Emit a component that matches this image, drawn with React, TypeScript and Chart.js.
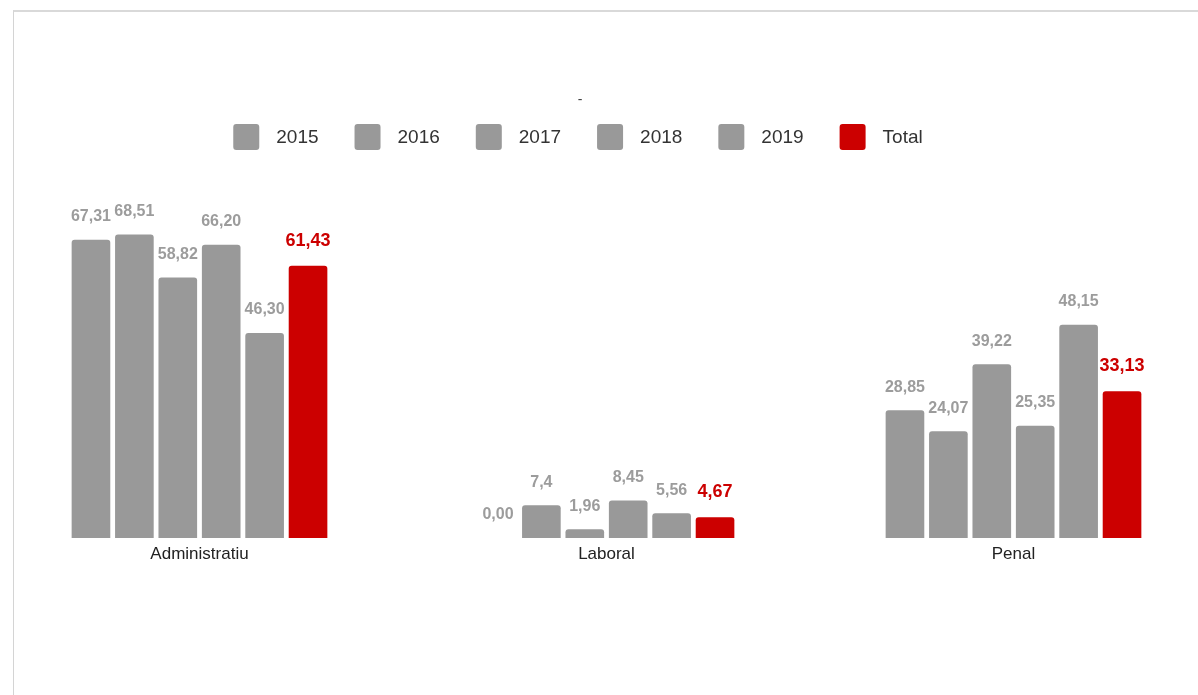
import { useEffect, useRef } from "react";
import { Chart, registerables } from "chart.js";

Chart.register(...registerables);

const FONT = "'Liberation Sans', Arial, Helvetica, sans-serif";

const CATEGORIES = ["Administratiu", "Laboral", "Penal"];
const SERIES_NAMES = ["2015", "2016", "2017", "2018", "2019", "Total"];
const VALUES_2015 = ["67,31", "0,00", "28,85"];
const VALUES_2016 = ["68,51", "7,4", "24,07"];
const VALUES_2017 = ["58,82", "1,96", "39,22"];
const VALUES_2018 = ["66,20", "8,45", "25,35"];
const VALUES_2019 = ["46,30", "5,56", "48,15"];
const VALUES_TOTAL = ["61,43", "4,67", "33,13"];
const TITLE_TEXT = "-";

const GRAY = "#999999";
const RED = "#cc0000";

const SERIES_VALUES = [VALUES_2015, VALUES_2016, VALUES_2017, VALUES_2018, VALUES_2019, VALUES_TOTAL];
const toNumber = (s: string) => parseFloat(s.replace(",", "."));

const CANVAS_LEFT = -4;
const CANVAS_W = 1221;
const CANVAS_H = 695;

const valueLabels = {
  id: "valueLabels",
  afterDatasetsDraw(chart: any) {
    const ctx = chart.ctx;
    ctx.save();
    ctx.textAlign = "center";
    ctx.textBaseline = "middle";
    chart.data.datasets.forEach((ds: any, di: number) => {
      const meta = chart.getDatasetMeta(di);
      const isTotal = di === chart.data.datasets.length - 1;
      ctx.font = `bold ${isTotal ? 18 : 16}px ${FONT}`;
      ctx.fillStyle = isTotal ? RED : "#9c9c9c";
      meta.data.forEach((el: any, i: number) => {
        const txt = ds.labelsText[i];
        ctx.fillText(txt, el.x, el.y - (isTotal ? 25 : 23));
      });
    });
    ctx.restore();
  },
};

const customLegend = {
  id: "customLegend",
  afterDraw(chart: any) {
    const ctx = chart.ctx;
    ctx.save();
    const centerX = 578 - CANVAS_LEFT;
    // title
    ctx.font = `14px ${FONT}`;
    ctx.fillStyle = "#444";
    ctx.textAlign = "center";
    ctx.textBaseline = "middle";
    ctx.fillText(TITLE_TEXT, 580 - CANVAS_LEFT, 100);

    const box = 26;
    const gap = 17;
    const spacing = 36;
    ctx.font = `19px ${FONT}`;
    const widths = chart.data.datasets.map((d: any) => ctx.measureText(d.label).width);
    const total = widths.reduce((a: number, w: number) => a + box + gap + w, 0) + spacing * (widths.length - 1);
    let x = centerX - total / 2;
    const cy = 137;
    chart.data.datasets.forEach((d: any, i: number) => {
      ctx.fillStyle = d.backgroundColor;
      ctx.beginPath();
      (ctx as any).roundRect(x, cy - box / 2, box, box, 3);
      ctx.fill();
      ctx.fillStyle = "#333";
      ctx.textAlign = "left";
      ctx.textBaseline = "middle";
      ctx.fillText(d.label, x + box + gap, cy + 1);
      x += box + gap + widths[i] + spacing;
    });
    ctx.restore();
  },
};

export default function App() {
  const ref = useRef<HTMLCanvasElement>(null);
  useEffect(() => {
    const chart = new Chart(ref.current!, {
      type: "bar",
      data: {
        labels: CATEGORIES,
        datasets: SERIES_NAMES.map((name, i) => ({
          label: name,
          data: SERIES_VALUES[i].map(toNumber),
          labelsText: SERIES_VALUES[i],
          backgroundColor: i === SERIES_NAMES.length - 1 ? RED : GRAY,
          borderRadius: 3,
          borderSkipped: "start",
          categoryPercentage: 0.64,
          barPercentage: 0.89,
        })) as any,
      },
      options: {
        responsive: false,
        animation: false,
        devicePixelRatio: 1,
        layout: { padding: { top: 183.6, bottom: 124.6, left: 0, right: 0 } },
        plugins: {
          legend: { display: false },
          title: { display: false },
          tooltip: { enabled: false },
        },
        scales: {
          x: {
            grid: { display: false, drawTicks: false },
            border: { display: false },
            ticks: { font: { family: FONT, size: 17 }, color: "#222", padding: 6 },
          },
          y: { display: false, min: 0, max: 80 },
        },
      },
      plugins: [valueLabels, customLegend],
    });
    return () => chart.destroy();
  }, []);

  return (
    <div
      style={{
        position: "absolute",
        left: 0,
        top: 0,
        width: 1198,
        height: 695,
        overflow: "hidden",
        background: "#fff",
      }}
    >
      <div
        style={{
          position: "absolute",
          left: 13,
          top: 10,
          width: 1200,
          height: 700,
          borderTop: "2px solid #d9d9d9",
          borderLeft: "1px solid #d4d4d4",
        }}
      />
      <canvas
        ref={ref}
        width={CANVAS_W}
        height={CANVAS_H}
        style={{ position: "absolute", left: CANVAS_LEFT, top: 0, width: CANVAS_W, height: CANVAS_H }}
      />
    </div>
  );
}
